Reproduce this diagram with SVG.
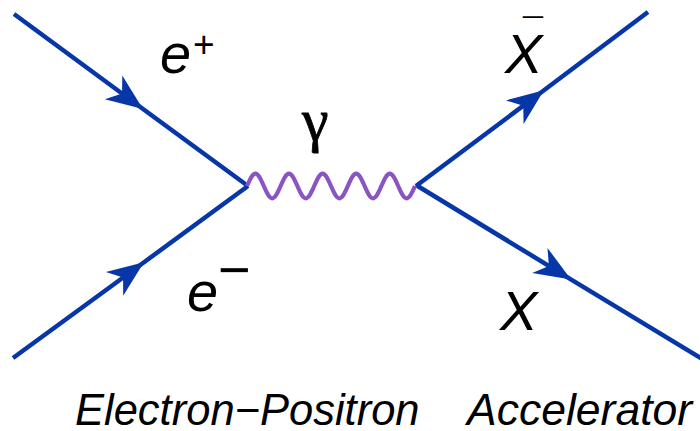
<svg xmlns="http://www.w3.org/2000/svg" width="700" height="431" viewBox="0 0 700 431">
<style>
.f{fill:none;stroke:#0636a8;stroke-width:4.5;marker-mid:url(#ah)}
.w{fill:none;stroke:#8a55c2;stroke-width:4.2}
.t{font-family:"Liberation Sans",Arial,sans-serif;fill:#000}
.i{font-style:italic}
</style>
<defs>
<marker id="ah" markerUnits="userSpaceOnUse" markerWidth="40" markerHeight="40" viewBox="-32 -14 34 28" refX="0" refY="0" orient="auto">
<path d="M1,0 L-30,-12.5 L-21,0 L-30,12.5 Z" fill="#0636a8"/>
</marker>
</defs>
<rect width="700" height="431" fill="#fff"/>
<g id="connectors">
<path id="eplus" class="f" d="M14,14 L142,108.2 L248,186"/>
<path id="eminus" class="f" d="M13,358 L143,263 L248,186"/>
<path id="xbar" class="f" d="M416,186 L543,91 L648,12"/>
<path id="x" class="f" d="M416,185 L570,278.8 L704,360"/>
<path id="photon" class="w" d="M247,186 c2.74,-6.3 5.36,-12.3 8.4,-12.3 s5.66,6 8.4,12.3 s5.36,12.3 8.4,12.3 s5.66,-6 8.4,-12.3 s5.36,-12.3 8.4,-12.3 s5.66,6 8.4,12.3 s5.36,12.3 8.4,12.3 s5.66,-6 8.4,-12.3 s5.36,-12.3 8.4,-12.3 s5.66,6 8.4,12.3 s5.36,12.3 8.4,12.3 s5.66,-6 8.4,-12.3 s5.36,-12.3 8.4,-12.3 s5.66,6 8.4,12.3 s5.36,12.3 8.4,12.3 s5.66,-6 8.4,-12.3 s5.36,-12.3 8.4,-12.3 s5.66,6 8.4,12.3 s5.36,12.3 8.4,12.3 s5.66,-6 8.4,-12.3"/>
</g>
<g id="label-eplus">
<text class="t i" x="160" y="73" font-size="56">e</text>
<text class="t" x="193" y="57" font-size="37">+</text>
</g>
<g id="label-eminus">
<text class="t i" x="187" y="311" font-size="56">e</text>
<text class="t i" x="217" y="289" font-size="56">−</text>
</g>
<g id="label-gamma">
<text class="t" style="font-family:'Liberation Serif',serif;stroke:#000;stroke-width:0.8" x="302" y="140" font-size="60">γ</text>
</g>
<g id="label-xbar">
<text class="t i" x="505" y="73" font-size="56">X</text>
<text class="t" x="523" y="44" font-size="36">¯</text>
</g>
<g id="label-x">
<text class="t i" x="500" y="330" font-size="56">X</text>
</g>
<g id="caption">
<text class="t i" x="75" y="425" font-size="43.5">Electron−Positron</text>
<text class="t i" x="467" y="425" font-size="44.5">Accelerator</text>
</g>
</svg>
